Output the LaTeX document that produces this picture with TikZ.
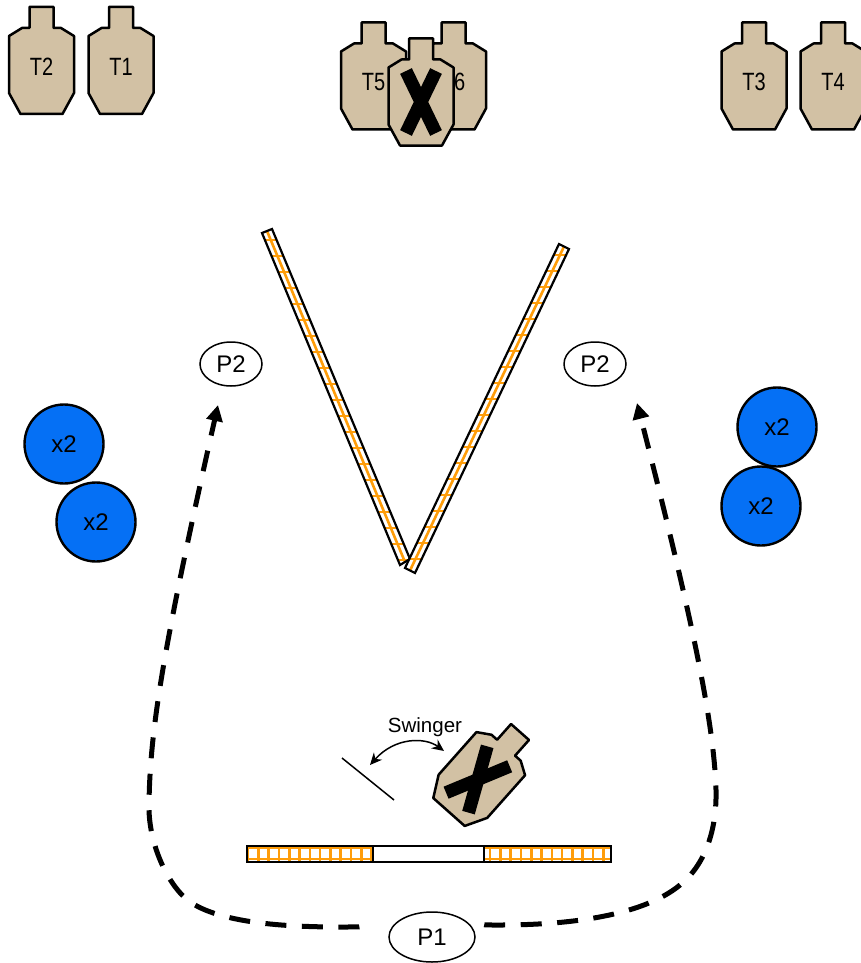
\documentclass[tikz,border=0pt]{standalone}
\usepackage{fontspec}
\setmainfont{Liberation Sans}
\newfontfamily\narrowsans[FakeStretch=0.8]{Liberation Sans}
\usetikzlibrary{arrows.meta,shapes.geometric}
\definecolor{cardboard}{HTML}{D2C1A4}
\definecolor{steelblue}{HTML}{0570F5}
\definecolor{hatchorange}{HTML}{FF9D0A}
\tikzset{
    paper/.style={fill=cardboard,draw=black,line width=2.5pt,line join=round},
    noshoot/.style={line width=13pt,draw=black},
    tlabel/.style={font=\narrowsans\fontsize{25}{25}\selectfont,inner sep=0pt},
    steel/.style={circle,draw=black,line width=2.4pt,fill=steelblue,minimum size=79pt,inner sep=0pt,font=\fontsize{24}{24}\selectfont},
    place/.style={ellipse,draw=black,line width=1.5pt,fill=white,inner sep=0pt,font=\fontsize{24}{24}\selectfont},
    route/.style={line width=5pt,dash pattern=on 21pt off 15.5pt,-{Triangle[length=16pt,width=16pt]}},
    wall/.style={draw=black,line width=2.2pt},
    hatch/.style={draw=hatchorange,line width=2.6pt},
    pics/cutout/.style={code={
        \draw[paper] (-12,-53.5)--(12,-53.5)--(12,-32.5)--(19.5,-32.5)--(32.5,-24.5)--(32.5,32.5)--(21,53.5)--(-21,53.5)--(-32.5,32.5)--(-32.5,-24.5)--(-19.5,-32.5)--(-12,-32.5)--cycle;
        \node[tlabel] (label) at (0,6) {#1};
    }},
    pics/crossed/.style={code={
        \draw[paper] (-12,-53.5)--(12,-53.5)--(12,-32.5)--(19.5,-32.5)--(32.5,-24.5)--(32.5,32.5)--(21,53.5)--(-21,53.5)--(-32.5,32.5)--(-32.5,-24.5)--(-19.5,-32.5)--(-12,-32.5)--cycle;
        \draw[noshoot] (-15,-21)--(15,41);
        \draw[noshoot] (15,-21)--(-15,41);
    }},
}
\begin{document}
\begin{tikzpicture}[x=1pt,y=-1pt]
    \useasboundingbox (0,0) rectangle (861,963);

    \pic (T2) at (41.5,60.5) {cutout=T2};
    \pic (T1) at (121,60.5) {cutout=T1};
    \pic (T5) at (373.5,76) {cutout=T5};
    \pic (T6) at (453.5,76) {cutout=T6};
    \pic (NS1) at (421,92) {crossed};
    \pic (T3) at (754,76) {cutout=T3};
    \pic (T4) at (833,76) {cutout=T4};

    \begin{scope}
        \clip (262,233)--(272,229)--(410,559)--(400,565)--cycle;
        \draw[hatch] (267,231)--(405,562);
        \foreach \y in {240,256,...,570}
            \draw[hatch] (250,\y)--(420,\y);
    \end{scope}
    \draw[wall] (262,233)--(272,229)--(410,559)--(400,565)--cycle;

    \fill[white] (559,244)--(569,249)--(415,573)--(405,568)--cycle;
    \begin{scope}
        \clip (559,244)--(569,249)--(415,573)--(405,568)--cycle;
        \draw[hatch] (564,246.5)--(410,570.5);
        \foreach \y in {255,271,...,570}
            \draw[hatch] (395,\y)--(580,\y);
    \end{scope}
    \draw[wall] (559,244)--(569,249)--(415,573)--(405,568)--cycle;

    \node[place,minimum width=62pt,minimum height=44pt] (P2a) at (231,364) {P2};
    \node[place,minimum width=62pt,minimum height=44pt] (P2b) at (595,364) {P2};
    \node[place,minimum width=86pt,minimum height=50pt] (P1) at (432,937) {P1};

    \node[steel] (S1) at (64,444) {x2};
    \node[steel] (S2) at (96,522) {x2};
    \node[steel] (S3) at (761,506) {x2};
    \node[steel] (S4) at (777,427) {x2};

    \coordinate (tipa) at (218,405);
    \coordinate (tipb) at (637,403);
    \draw[route,shorten <=30.7pt] (P1.west) .. controls (360,927) and (345,927) .. (340,927) .. controls (280,927) and (225,922) .. (195,905) .. controls (172,893) and (150,850) .. (149,810) .. controls (149,730) and (165,640) .. (tipa);
    \draw[route,shorten <=15pt] (P1.east) .. controls (484,925) and (490,925) .. (500,925) .. controls (560,925) and (640,918) .. (680,885) .. controls (705,865) and (717,830) .. (716,790) .. controls (714,720) and (690,610) .. (tipb);

    \pic[rotate=-41.6] (NS2) at (484.5,772) {crossed};
    \coordinate (gatea) at (342,758);
    \coordinate (gateb) at (394,800);
    \draw[line width=1.5pt] (gatea)--(gateb);
    \node[inner sep=0pt,font=\fontsize{20.5}{20.5}\selectfont] (swing) at (425,727) {Swinger};
    \coordinate (swinga) at (444,751);
    \coordinate (swingb) at (370,765);
    \draw[line width=1.5pt,{Stealth[length=12pt,width=11pt]}-{Stealth[length=12pt,width=11pt]}] (swinga) .. controls (425,737) and (395,737) .. (swingb);

    \fill[white] (247,846) rectangle (611,862);
    \begin{scope}
        \clip (247,846) rectangle (373,862);
        \draw[hatch] (247,848)--(373,848);
        \draw[hatch] (247,859)--(373,859);
        \foreach \x in {248,258.3,...,372}
            \draw[hatch] (\x,846)--(\x,862);
    \end{scope}
    \begin{scope}
        \clip (484,846) rectangle (611,862);
        \draw[hatch] (484,848)--(611,848);
        \draw[hatch] (484,859)--(611,859);
        \foreach \x in {490,500.3,...,609}
            \draw[hatch] (\x,846)--(\x,862);
    \end{scope}
    \draw[wall] (247,846) rectangle (611,862);
    \draw[wall] (373,846)--(373,862);
    \draw[wall] (484,846)--(484,862);
\end{tikzpicture}
\end{document}
